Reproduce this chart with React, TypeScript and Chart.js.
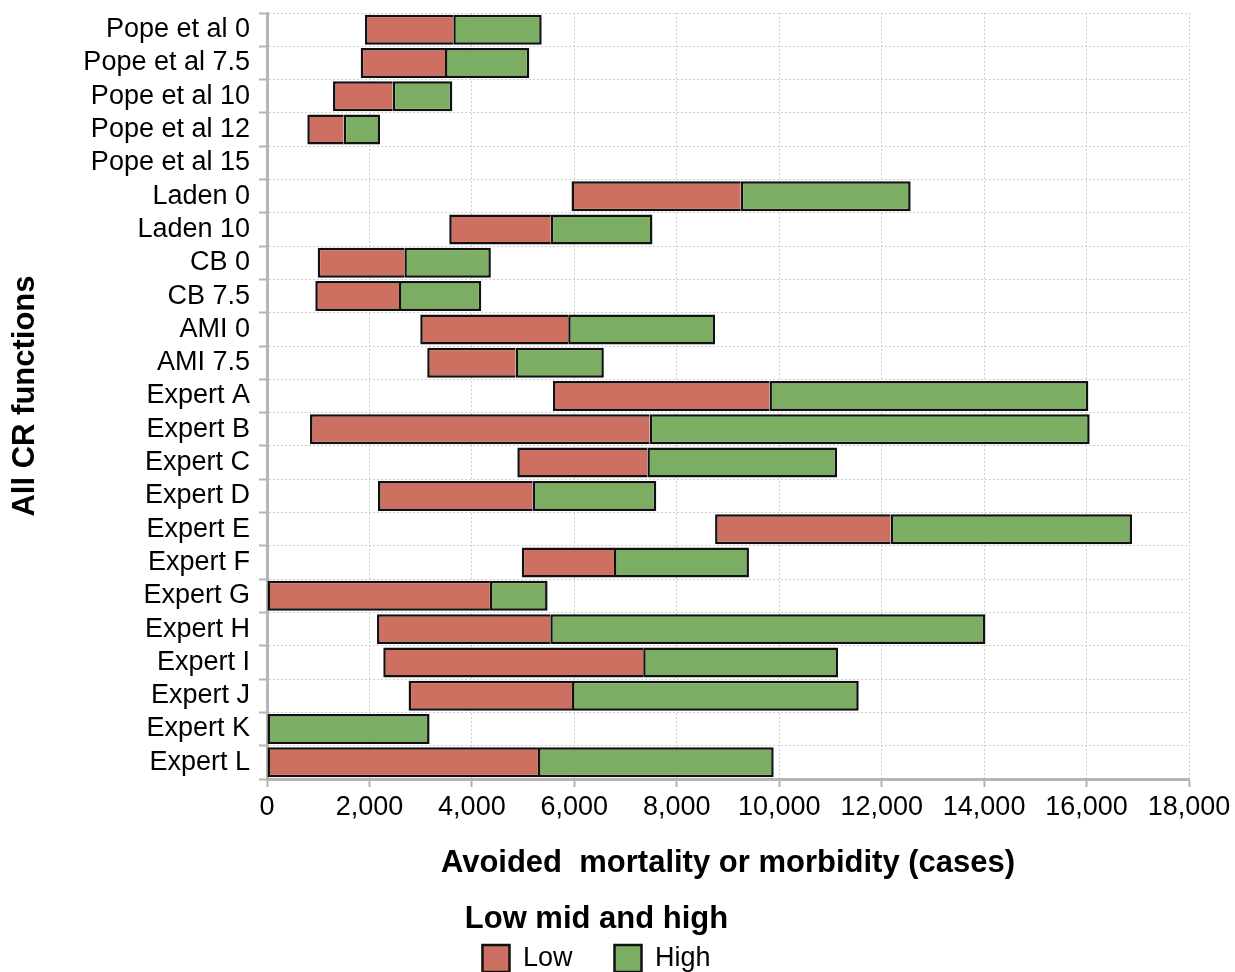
import { useEffect, useRef } from 'react';
import { Chart, registerables } from 'chart.js';

Chart.register(...registerables);

const categories = [
  'Pope et al 0', 'Pope et al 7.5', 'Pope et al 10', 'Pope et al 12', 'Pope et al 15',
  'Laden 0', 'Laden 10', 'CB 0', 'CB 7.5', 'AMI 0', 'AMI 7.5',
  'Expert A', 'Expert B', 'Expert C', 'Expert D', 'Expert E', 'Expert F',
  'Expert G', 'Expert H', 'Expert I', 'Expert J', 'Expert K', 'Expert L',
];

const lowValues: (number | null)[] = [
  1913, 1829, 1289, 787, null,
  5945, 3558, 990, 943, 2992, 3128,
  5583, 840, 4887, 2167, 8748, 4974,
  0, 2148, 2270, 2764, 0, 0,
];

const midValues: (number | null)[] = [
  3637, 3475, 2454, 1497, null,
  9249, 5541, 2681, 2577, 5880, 4852,
  9809, 7470, 7426, 5183, 12174, 6774,
  4352, 5530, 7344, 5954, 0, 5290,
];

const highValues: (number | null)[] = [
  5363, 5121, 3618, 2206, null,
  12566, 7525, 4370, 4182, 8748, 6576,
  16035, 16061, 11130, 7600, 16887, 9409,
  5478, 14026, 11149, 11552, 3174, 9892,
];

const xTicksMin = 0;
const xTicksMax = 18000;
const xTickStep = 2000;

const FONT = "'Liberation Sans', Arial, Helvetica, sans-serif";
const AXIS_GREY = '#b5b5b5';
const GRID_GREY = '#cfcfcf';

export default function App() {
  const ref = useRef<HTMLCanvasElement>(null);

  useEffect(() => {
    if (!ref.current) return;

    const lowData = categories.map((_, i) => {
      const a = lowValues[i];
      const b = midValues[i];
      return a === null || b === null || b <= a ? null : [a, b];
    });
    const highData = categories.map((_, i) => {
      const a = midValues[i];
      const b = highValues[i];
      return a === null || b === null || b <= a ? null : [a, b];
    });

    const legendPlacer = {
      id: 'legendPlacer',
      afterLayout(chart: any) {
        const lg = chart.legend;
        if (!lg) return;
        const h = lg.bottom - lg.top;
        lg.top = 904;
        lg.bottom = 904 + h;
        lg.left -= 21;
        lg.right -= 21;
      },
    };

    const chart = new Chart(ref.current, {
      type: 'bar',
      data: {
        labels: categories,
        datasets: [
          {
            label: 'Low',
            data: lowData as any,
            backgroundColor: '#CD7062',
            borderColor: '#111111',
            borderWidth: 2.5,
            borderSkipped: 'right',
            grouped: false,
            barPercentage: 0.9,
            categoryPercentage: 1,
          } as any,
          {
            label: 'High',
            data: highData as any,
            backgroundColor: '#7BAE62',
            borderColor: '#111111',
            borderWidth: 2.5,
            borderSkipped: false,
            grouped: false,
            barPercentage: 0.9,
            categoryPercentage: 1,
          } as any,
        ],
      },
      options: {
        indexAxis: 'y',
        animation: false,
        responsive: true,
        maintainAspectRatio: false,
        layout: { padding: { top: 13, left: 0, right: 0, bottom: 0 } },
        scales: {
          x: {
            type: 'linear',
            position: 'bottom',
            min: xTicksMin,
            max: xTicksMax,
            ticks: {
              stepSize: xTickStep,
              maxRotation: 0,
              padding: 4,
              color: '#000',
              font: { family: FONT, size: 27 },
              callback: (v: any) => Number(v).toLocaleString('en-US'),
            },
            grid: {
              color: GRID_GREY,
              lineWidth: 1,
              tickLength: 8,
              tickColor: AXIS_GREY,
              tickWidth: 2,
              tickBorderDash: [],
            } as any,
            border: { color: AXIS_GREY, width: 3, dash: [2, 2] },
            title: {
              display: true,
              text: 'Avoided  mortality or morbidity (cases)',
              color: '#000',
              font: { family: FONT, size: 31, weight: 'bold' },
              padding: { top: 0, bottom: 12 },
            },
            afterFit: (s: any) => {
              s.height = 115;
              s.paddingLeft = 0;
              s.paddingRight = 46;
            },
          },
          y: {
            type: 'category',
            offset: true,
            ticks: {
              autoSkip: false,
              padding: 9,
              color: '#000',
              font: { family: FONT, size: 27 },
            },
            grid: {
              offset: true,
              color: GRID_GREY,
              lineWidth: 1,
              tickLength: 8,
              tickColor: AXIS_GREY,
              tickWidth: 2,
              tickBorderDash: [],
            } as any,
            border: { color: AXIS_GREY, width: 3, dash: [2, 2] },
            title: {
              display: true,
              text: 'All CR functions',
              color: '#000',
              font: { family: FONT, size: 31, weight: 'bold' },
              padding: { top: 7, bottom: 0 },
            },
            afterFit: (s: any) => {
              s.width = 267;
              s.paddingTop = 0;
              s.paddingBottom = 0;
            },
          },
        },
        plugins: {
          tooltip: { enabled: false },
          legend: {
            display: true,
            position: 'bottom',
            align: 'center',
            title: {
              display: true,
              text: 'Low mid and high',
              position: 'center',
              color: '#000',
              font: { family: FONT, size: 31, weight: 'bold', lineHeight: 0 },
              padding: { top: 0, bottom: -1 },
            },
            labels: {
              boxWidth: 27,
              boxHeight: 27,
              padding: 42,
              color: '#000',
              font: { family: FONT, size: 27 },
            },
          } as any,
        },
      } as any,
      plugins: [legendPlacer],
    });

    return () => chart.destroy();
  }, []);

  return (
    <div style={{ position: 'absolute', left: 0, top: 0, width: 1235, height: 972, background: '#fff' }}>
      <canvas ref={ref} />
    </div>
  );
}
